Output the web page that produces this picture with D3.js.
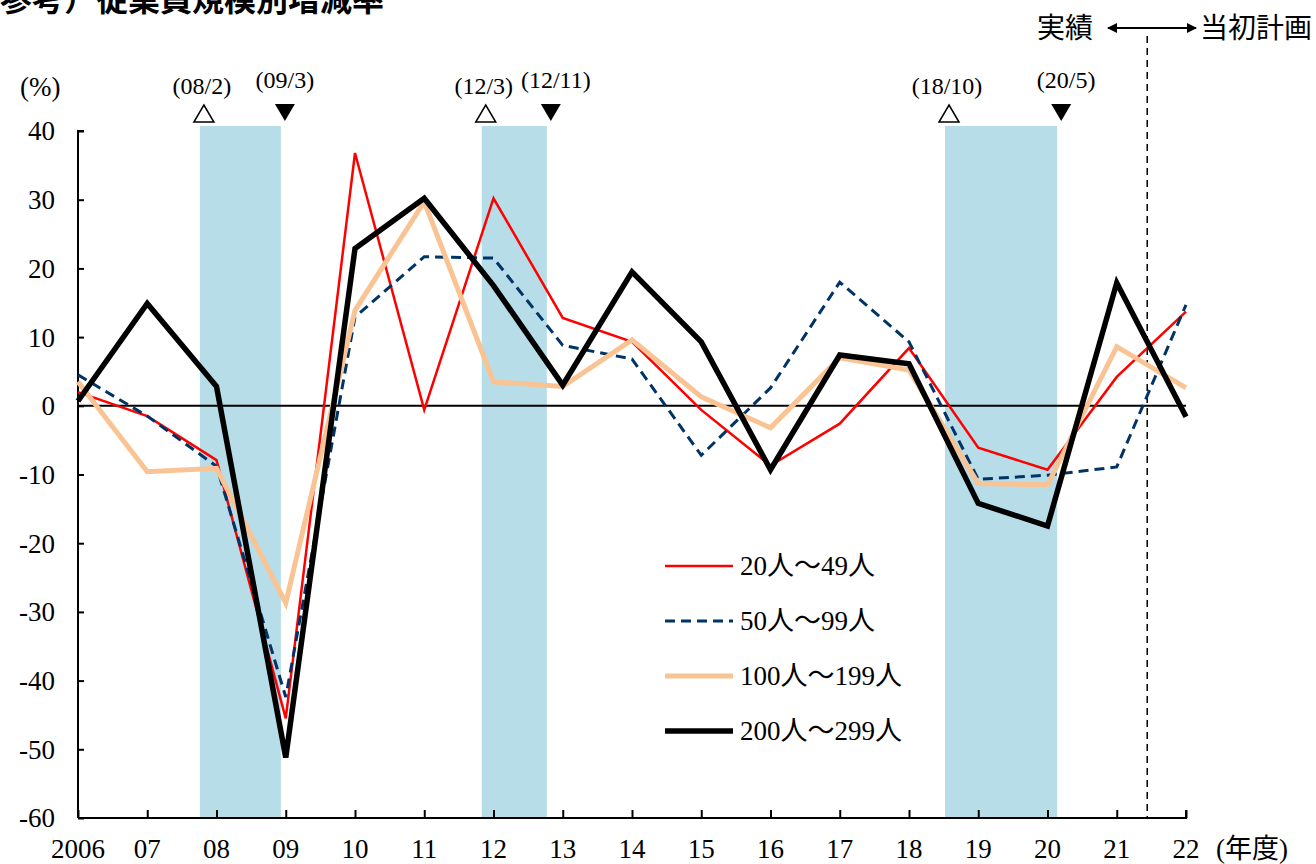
<!DOCTYPE html>
<html>
<head>
<meta charset="utf-8">
<script src="https://cdn.jsdelivr.net/npm/d3@7"></script>
<style>
  body { margin: 0; background: #fff; }
  svg { display: block; }
  .num { font-family: "Liberation Serif", "Noto Sans CJK JP", serif; }
</style>
</head>
<body>
<div id="chart"></div>
<script>
const years = d3.range(2006, 2023);
const yearLabels = ["2006", "07", "08", "09", "10", "11", "12", "13", "14", "15", "16", "17", "18", "19", "20", "21", "22"];
const yTicks = [40, 30, 20, 10, 0, -10, -20, -30, -40, -50, -60];

const seriesNames = ["20人～49人", "50人～99人", "100人～199人", "200人～299人"];
const s20to49 = [2.0, -1.5, -7.9, -45.5, 36.8, -0.6, 30.2, 12.8, 9.3, -0.6, -8.7, -2.6, 8.4, -6.1, -9.3, 4.2, 13.7];
const s50to99 = [4.5, -1.5, -8.8, -42.4, 12.9, 21.7, 21.5, 8.8, 6.8, -7.2, 2.6, 18.0, 9.3, -10.7, -10.1, -8.9, 14.7];
const s100to199 = [3.5, -9.6, -9.1, -28.7, 13.9, 29.7, 3.5, 2.8, 9.6, 1.3, -3.2, 7.0, 5.2, -11.3, -11.5, 8.6, 2.6];
const s200to299 = [0.7, 14.9, 2.8, -51.2, 22.9, 30.2, 17.5, 3.0, 19.5, 9.3, -9.3, 7.4, 6.1, -14.2, -17.5, 17.9, -1.6];

// recession shading: peak / trough positions on the fiscal-year axis
const peakLabels = ["(08/2)", "(12/3)", "(18/10)"];
const troughLabels = ["(09/3)", "(12/11)", "(20/5)"];
const peakPos = [2007.76, 2011.83, 2018.52];
const troughPos = [2008.93, 2012.77, 2020.14];

const forecastSplit = 2021.44;

const colors = {
  s20: "#ff0000",
  s50: "#003366",
  s100: "#f9c394",
  s200: "#000000",
  shade: "#b7dde8",
};

const W = 1316, H = 864;
const svg = d3.select("#chart").append("svg").attr("width", W).attr("height", H);

const x = d3.scaleLinear().domain([2006, 2022]).range([78, 1186]);
const y = d3.scaleLinear().domain([-60, 40]).range([818, 131]);

// shaded periods
svg.append("g").selectAll("rect")
  .data(peakPos)
  .join("rect")
  .attr("x", (d) => x(d))
  .attr("width", (d, i) => x(troughPos[i]) - x(d))
  .attr("y", y(40) - 5)
  .attr("height", y(-60) - y(40) + 5)
  .attr("fill", colors.shade);

// y axis
const yAxis = svg.append("g")
  .attr("transform", `translate(${x(2006)},0)`)
  .call(d3.axisRight(y).tickValues(yTicks).tickSize(6).tickFormat(""));
yAxis.select(".domain").attr("d", `M6,${y(40)}H0V${y(-60)}`).attr("stroke-width", 2);
yAxis.selectAll(".tick line").attr("stroke-width", 2);

svg.append("g").selectAll("text")
  .data(yTicks)
  .join("text")
  .attr("class", "num")
  .attr("x", 55)
  .attr("y", (d) => y(d))
  .attr("dy", "0.35em")
  .attr("text-anchor", "end")
  .attr("font-size", 27)
  .text((d) => d);

// x axis
const xAxis = svg.append("g")
  .attr("transform", `translate(0,${y(-60)})`)
  .call(d3.axisTop(x).tickValues(years).tickSize(8).tickFormat(""));
xAxis.select(".domain").attr("d", `M${x(2006)},0H${x(2022)}V-8`).attr("stroke-width", 2);
xAxis.selectAll(".tick line").attr("stroke-width", 2);

svg.append("g").selectAll("text")
  .data(years)
  .join("text")
  .attr("class", "num")
  .attr("x", (d) => x(d))
  .attr("y", 858)
  .attr("text-anchor", "middle")
  .attr("font-size", 27)
  .text((d, i) => yearLabels[i]);

svg.append("text").attr("class", "num")
  .attr("x", 1216).attr("y", 858).attr("font-size", 27).text("(年度)");

svg.append("text").attr("class", "num")
  .attr("x", 20).attr("y", 96).attr("font-size", 27).text("(%)");

// zero line
svg.append("line")
  .attr("x1", x(2006)).attr("x2", x(2022))
  .attr("y1", y(0)).attr("y2", y(0))
  .attr("stroke", "#000").attr("stroke-width", 2);

// forecast split
svg.append("line")
  .attr("x1", x(forecastSplit)).attr("x2", x(forecastSplit))
  .attr("y1", 36).attr("y2", y(-60))
  .attr("stroke", "#000").attr("stroke-width", 1.5)
  .attr("stroke-dasharray", "7,5");

// arrow between 実績 / 当初計画
const defs = svg.append("defs");
defs.append("marker")
  .attr("id", "arrowHead")
  .attr("viewBox", "0 0 10 10")
  .attr("refX", 9).attr("refY", 5)
  .attr("markerWidth", 14).attr("markerHeight", 10)
  .attr("markerUnits", "userSpaceOnUse")
  .attr("orient", "auto-start-reverse")
  .append("path").attr("d", "M0,0L10,5L0,10Z").attr("fill", "#000");

svg.append("line")
  .attr("x1", 1108).attr("x2", 1196)
  .attr("y1", 28).attr("y2", 28)
  .attr("stroke", "#000").attr("stroke-width", 2)
  .attr("marker-start", "url(#arrowHead)")
  .attr("marker-end", "url(#arrowHead)");

svg.append("text").attr("x", 1093).attr("y", 38)
  .attr("text-anchor", "end").attr("font-family", "Noto Sans CJK JP")
  .attr("font-size", 28).text("実績");
svg.append("text").attr("x", 1200).attr("y", 38)
  .attr("font-family", "Noto Sans CJK JP")
  .attr("font-size", 28).text("当初計画");

// title (cut off at the top edge like the original)
svg.append("text").attr("x", 0).attr("y", 11)
  .attr("font-family", "Noto Sans CJK JP").attr("font-weight", "bold")
  .attr("font-size", 32).text("参考）従業員規模別増減率");

// peak / trough markers
const markerG = svg.append("g");
peakPos.forEach((p, i) => {
  const cx = x(p) + 4;
  markerG.append("path")
    .attr("d", `M${cx},${105}L${cx + 10},${122}L${cx - 10},${122}Z`)
    .attr("fill", "#fff").attr("stroke", "#000").attr("stroke-width", 1.5);
  markerG.append("text").attr("class", "num")
    .attr("x", cx - 2).attr("y", 94).attr("text-anchor", "middle")
    .attr("font-size", 24).text(peakLabels[i]);
});
troughPos.forEach((p, i) => {
  const cx = x(p) + 4;
  markerG.append("path")
    .attr("d", `M${cx - 10},${104}L${cx + 10},${104}L${cx},${121}Z`)
    .attr("fill", "#000");
  markerG.append("text").attr("class", "num")
    .attr("x", cx + (i === 0 ? 0 : 5)).attr("y", 88).attr("text-anchor", "middle")
    .attr("font-size", 24).text(troughLabels[i]);
});

// series lines
const series = [
  { name: seriesNames[0], values: s20to49, color: colors.s20, width: 2.5, dash: null },
  { name: seriesNames[1], values: s50to99, color: colors.s50, width: 3, dash: "10,6" },
  { name: seriesNames[2], values: s100to199, color: colors.s100, width: 5, dash: null },
  { name: seriesNames[3], values: s200to299, color: colors.s200, width: 5.5, dash: null },
];

const line = d3.line()
  .x((d, i) => x(years[i]))
  .y((d) => y(d));

svg.append("g").selectAll("path")
  .data(series)
  .join("path")
  .attr("d", (d) => line(d.values))
  .attr("fill", "none")
  .attr("stroke", (d) => d.color)
  .attr("stroke-width", (d) => d.width)
  .attr("stroke-dasharray", (d) => d.dash)
  .attr("stroke-linejoin", "miter");

// legend
const legend = svg.append("g").selectAll("g")
  .data(series)
  .join("g")
  .attr("transform", (d, i) => `translate(665,${566 + i * 55})`);
legend.append("line")
  .attr("x1", 0).attr("x2", 68)
  .attr("stroke", (d) => d.color)
  .attr("stroke-width", (d) => d.width)
  .attr("stroke-dasharray", (d) => d.dash);
legend.append("text")
  .attr("class", "num")
  .attr("x", 75).attr("dy", "0.35em")
  .attr("font-size", 27)
  .text((d) => d.name);
</script>
</body>
</html>
